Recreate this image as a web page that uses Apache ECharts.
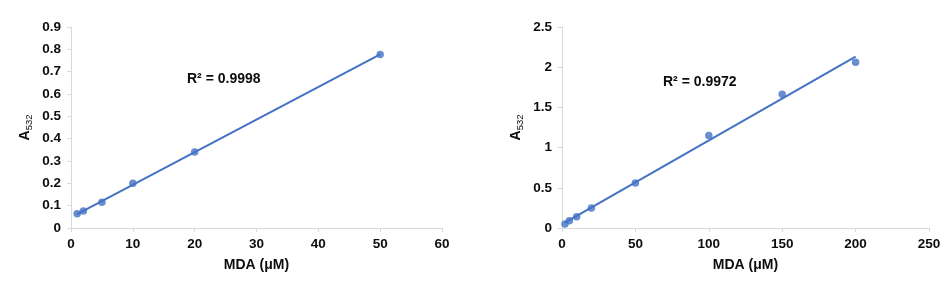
<!DOCTYPE html>
<html>
<head>
<meta charset="utf-8">
<script src="https://cdn.jsdelivr.net/npm/echarts@6/dist/echarts.min.js"></script>
<style>
html,body{margin:0;padding:0;background:#fff;}
#c{width:945px;height:282px;}
</style>
</head>
<body>
<div id="c"></div>
<script>
// Left chart data
const leftX = [1, 2, 5, 10, 20, 50];
const leftY = [0.064, 0.076, 0.115, 0.200, 0.340, 0.777];
const leftR2 = 'R² = 0.9998';
// Right chart data
const rightX = [2, 5, 10, 20, 50, 100, 150, 200];
const rightY = [0.050, 0.090, 0.140, 0.248, 0.559, 1.151, 1.664, 2.061];
const rightR2 = 'R² = 0.9972';
// Axis ticks
const leftXTicks = [0, 60, 10];
const leftYTicks = [0, 0.9, 0.1];
const rightXTicks = [0, 250, 50];
const rightYTicks = [0, 2.5, 0.5];

function fit(xs, ys) {
  const n = xs.length;
  const mx = xs.reduce((a, b) => a + b, 0) / n;
  const my = ys.reduce((a, b) => a + b, 0) / n;
  let sxy = 0, sxx = 0;
  for (let i = 0; i < n; i++) { sxy += (xs[i] - mx) * (ys[i] - my); sxx += (xs[i] - mx) ** 2; }
  const b = sxy / sxx, a = my - b * mx;
  const x0 = Math.min(...xs), x1 = Math.max(...xs);
  return [[x0, a + b * x0], [x1, a + b * x1]];
}

const FONT = 'Liberation Sans, Arial, sans-serif';
const BLUE = '#4472C4';
const AX = '#d9d9d9';
const TXT = '#0d0d0d';

function xAxis(idx, t) {
  return {
    type: 'value', gridIndex: idx, min: t[0], max: t[1], interval: t[2],
    name: 'MDA (μM)', nameLocation: 'middle', nameGap: 30,
    nameTextStyle: { fontFamily: FONT, fontSize: 14, fontWeight: 'bold', color: TXT },
    axisLine: { show: true, lineStyle: { color: AX, width: 1 } },
    axisTick: { show: true, length: 4, lineStyle: { color: AX } },
    splitLine: { show: false },
    axisLabel: { fontFamily: FONT, fontSize: 13.5, fontWeight: 'bold', color: TXT, margin: 9 }
  };
}
function yAxis(idx, t) {
  return {
    type: 'value', gridIndex: idx, min: t[0], max: t[1], interval: t[2],
    name: '{a|A}{s|532}', nameLocation: 'middle', nameGap: 38, nameRotate: 90,
    nameTextStyle: {
      rich: {
        a: { fontFamily: FONT, fontSize: 14, fontWeight: 'bold', color: TXT, lineHeight: 16 },
        s: { fontFamily: FONT, fontSize: 9.5, color: TXT, lineHeight: 16, padding: [9, 0, 0, 0] }
      }
    },
    axisLine: { show: true, lineStyle: { color: AX, width: 1 } },
    axisTick: { show: true, length: 4, lineStyle: { color: AX } },
    splitLine: { show: false },
    axisLabel: { fontFamily: FONT, fontSize: 13.5, fontWeight: 'bold', color: TXT, margin: 10 }
  };
}

const chart = echarts.init(document.getElementById('c'), null, { renderer: 'canvas' });
chart.setOption({
  animation: false,
  backgroundColor: '#fff',
  grid: [
    { left: 71, right: 503, top: 27, bottom: 54 },
    { left: 562, right: 16, top: 27, bottom: 54 }
  ],
  xAxis: [xAxis(0, leftXTicks), xAxis(1, rightXTicks)],
  yAxis: [yAxis(0, leftYTicks), yAxis(1, rightYTicks)],
  graphic: [
    { type: 'text', left: 187, top: 72, style: { text: leftR2, font: 'bold 14px ' + FONT, fill: TXT } },
    { type: 'text', left: 663, top: 75, style: { text: rightR2, font: 'bold 14px ' + FONT, fill: TXT } }
  ],
  series: [
    { type: 'line', xAxisIndex: 0, yAxisIndex: 0, data: fit(leftX, leftY), showSymbol: false, symbol: 'none',
      lineStyle: { color: BLUE, width: 2 }, z: 2 },
    { type: 'scatter', xAxisIndex: 0, yAxisIndex: 0, data: leftX.map((x, i) => [x, leftY[i]]),
      symbol: 'circle', symbolSize: 7.5, itemStyle: { color: BLUE }, z: 3 },
    { type: 'line', xAxisIndex: 1, yAxisIndex: 1, data: fit(rightX, rightY), showSymbol: false, symbol: 'none',
      lineStyle: { color: BLUE, width: 2 }, z: 2 },
    { type: 'scatter', xAxisIndex: 1, yAxisIndex: 1, data: rightX.map((x, i) => [x, rightY[i]]),
      symbol: 'circle', symbolSize: 7.5, itemStyle: { color: BLUE }, z: 3 }
  ]
});
</script>
</body>
</html>
